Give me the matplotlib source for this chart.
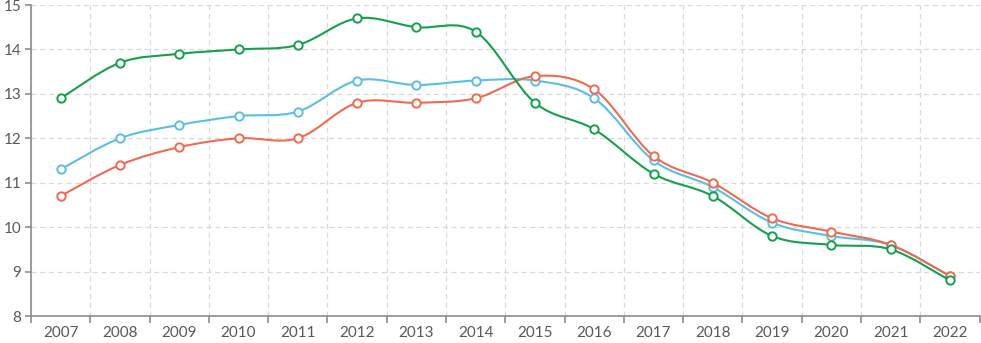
import numpy as np
import matplotlib.pyplot as plt
from matplotlib.path import Path
from matplotlib.patches import PathPatch

years = ["2007", "2008", "2009", "2010", "2011", "2012", "2013", "2014",
         "2015", "2016", "2017", "2018", "2019", "2020", "2021", "2022"]
green_vals = [12.9, 13.7, 13.9, 14.0, 14.1, 14.7, 14.5, 14.4,
              12.8, 12.2, 11.2, 10.7, 9.8, 9.6, 9.5, 8.8]
blue_vals = [11.3, 12.0, 12.3, 12.5, 12.6, 13.3, 13.2, 13.3,
             13.3, 12.9, 11.5, 10.9, 10.1, 9.8, 9.6, 8.9]
red_vals = [10.7, 11.4, 11.8, 12.0, 12.0, 12.8, 12.8, 12.9,
            13.4, 13.1, 11.6, 11.0, 10.2, 9.9, 9.6, 8.9]

colors = {"blue": "#5bbfe3", "red": "#ee6a50", "green": "#14a04e"}


def smooth_path(x, y):
    # excel-style smoothed line: bezier segments through every point
    pts = np.column_stack([x, y]).astype(float)
    n = len(pts)
    verts = [pts[0]]
    codes = [Path.MOVETO]
    for i in range(n - 1):
        p0 = pts[max(i - 1, 0)]
        p1 = pts[i]
        p2 = pts[i + 1]
        p3 = pts[min(i + 2, n - 1)]
        c1 = p1 + (p2 - p0) / 6.0
        c2 = p2 - (p3 - p1) / 6.0
        verts += [c1, c2, p2]
        codes += [Path.CURVE4] * 3
    return Path(verts, codes)


fig = plt.figure(figsize=(9.81, 3.43), dpi=100)
ax = fig.add_axes([31 / 981, 27 / 343, 948.6 / 981, 311 / 343])

x = np.arange(len(years))
for name, vals, z in [("blue", blue_vals, 3), ("red", red_vals, 4), ("green", green_vals, 5)]:
    patch = PathPatch(smooth_path(x, vals), facecolor="none", edgecolor=colors[name],
                      lw=1.5, zorder=z)
    ax.add_patch(patch)
    ax.plot(x, vals, "o", ms=6, mfc="white", mec=colors[name], mew=1.4, zorder=z + 0.5)

ax.set_xlim(-0.5, len(years) - 0.5)
ax.set_ylim(8, 15)
ax.set_yticks(range(8, 16))
ax.set_xticks(x)
ax.set_xticklabels(years)
ax.set_xticks(np.arange(-0.5, len(years), 1.0), minor=True)

ax.grid(True, which="minor", axis="x", color="#d9d9d9", ls=(0, (4, 3)), lw=0.9)
ax.grid(True, which="major", axis="y", color="#d9d9d9", ls=(0, (4, 3)), lw=0.9)
ax.set_axisbelow(True)

for s in ["top", "right"]:
    ax.spines[s].set_visible(False)
for s in ["left", "bottom"]:
    ax.spines[s].set_color("#8c8c8c")
    ax.spines[s].set_linewidth(1.2)

ax.tick_params(axis="x", which="major", length=0, pad=7, labelsize=11, labelcolor="#595959")
ax.tick_params(axis="x", which="minor", length=5, color="#8c8c8c", width=1.2, direction="out")
ax.tick_params(axis="y", length=4, color="#8c8c8c", width=1.2, pad=3,
               labelsize=11, labelcolor="#595959")
for lab in ax.get_xticklabels() + ax.get_yticklabels():
    lab.set_family(["Lato", "DejaVu Sans"])

fig.savefig("out.png", dpi=100)
